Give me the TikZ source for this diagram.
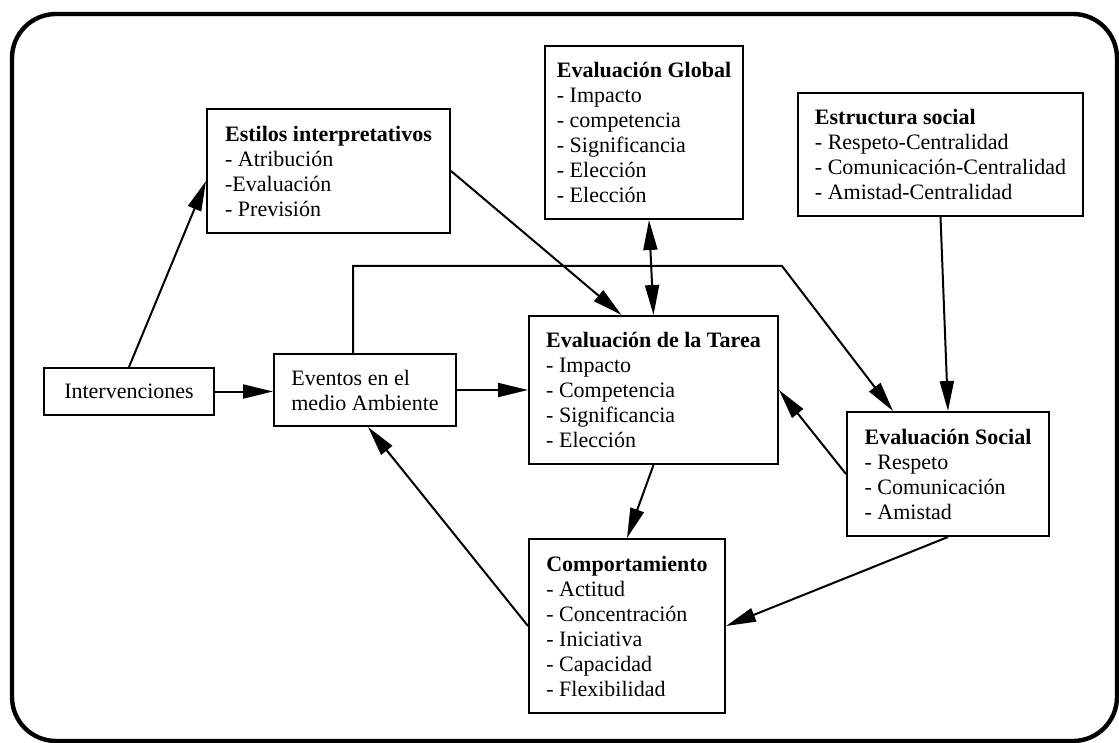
\documentclass[tikz,border=0pt]{standalone}
\usepackage{fontspec}
\setmainfont{Liberation Serif}
\usepackage{tikz}
\usetikzlibrary{arrows.meta,calc}

\tikzset{
  box/.style={draw, line width=1pt, align=left, inner sep=0pt, anchor=north west,
    font=\fontsize{11}{12.5}\selectfont},
  link/.style={line width=1pt},
}

\begin{document}
\begin{tikzpicture}[x=0.5pt,y=-0.5pt,>={Triangle[length=15pt,width=7pt]}]
  \useasboundingbox (0,0) rectangle (1119,743);
  % Outer frame
  \draw[line width=2.2pt, rounded corners=22pt] (12,14) rectangle (1117,741);

  % Boxes
  \node[box, minimum width=85pt, minimum height=23.5pt] (interv) at (43,367) {Intervenciones};
  \node[box, minimum width=121.5pt, minimum height=62pt] (estilos) at (206,108)
    {\textbf{Estilos interpretativos}\\- Atribución\\-Evaluación\\- Previsión};
  \node[box, minimum width=99pt, minimum height=86.5pt] (global) at (544,45)
    {\textbf{Evaluación Global}\\- Impacto\\- competencia\\- Significancia\\- Elección\\- Elección};
  \node[box, minimum width=142.5pt, minimum height=61.5pt] (estructura) at (797,92)
    {\textbf{Estructura social}\\- Respeto-Centralidad\\- Comunicación-Centralidad\\- Amistad-Centralidad};
  \node[box, minimum width=91pt, minimum height=36pt] (eventos) at (273,353)
    {Eventos en el\\medio Ambiente};
  \node[box, minimum width=124.5pt, minimum height=74pt] (tarea) at (528,315)
    {\textbf{Evaluación de la Tarea}\\- Impacto\\- Competencia\\- Significancia\\- Elección};
  \node[box, minimum width=101pt, minimum height=62pt] (social) at (846,411)
    {\textbf{Evaluación Social}\\- Respeto\\- Comunicación\\- Amistad};
  \node[box, minimum width=98pt, minimum height=87pt] (comp) at (528,538)
    {\textbf{Comportamiento}\\- Actitud\\- Concentración\\- Iniciativa\\- Capacidad\\- Flexibilidad};

  % Connectors
  \coordinate (bend) at (782,266);
  \draw[link,->] (interv.east) -- (interv.east -| eventos.west);
  \draw[link,->] (interv.north) -- ($(estilos.west)+(0,10)$);
  \draw[link,->] (estilos.east) -- ($(tarea.north)+(-32,0)$);
  \draw[link,<->] ($(global.south)+(5,0)$) -- (tarea.north);
  \draw[link,->] (estructura.south) -- (social.north);
  \draw[link,->] ($(eventos.north)+(-12,0)$) |- (bend) -- ($(social.north)+(-55,0)$);
  \draw[link,->] (eventos.east) -- (tarea.west);
  \draw[link,->] (social.west) -- (tarea.east);
  \draw[link,->] (tarea.south) -- (comp.north);
  \draw[link,->] (social.south) -- (comp.east);
  \draw[link,->] (comp.west) -- ($(eventos.south)+(3,0)$);
\end{tikzpicture}
\end{document}
